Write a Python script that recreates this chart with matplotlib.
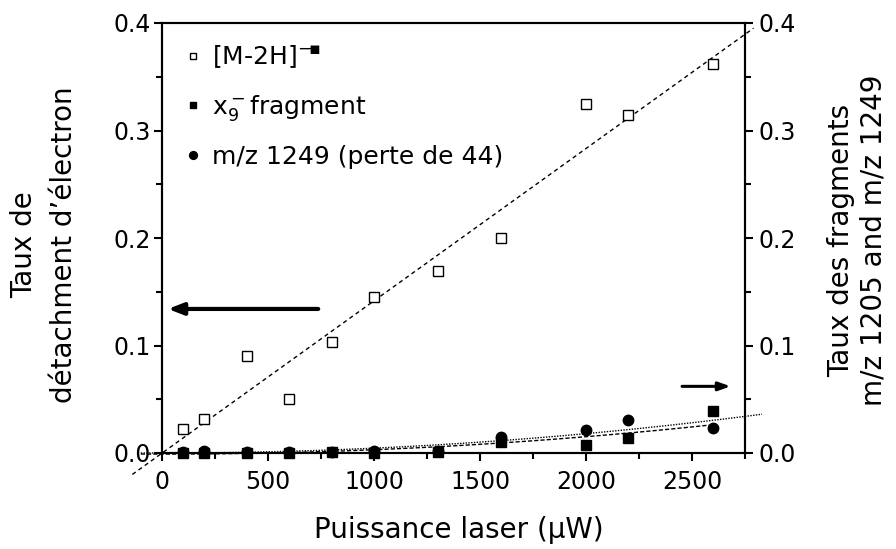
import numpy as np
import matplotlib
matplotlib.use("Agg")
import matplotlib.pyplot as plt

plt.rcParams['font.family'] = ['DejaVu Sans']
plt.rcParams['mathtext.fontset'] = 'dejavusans'

# données
puissance = [100, 200, 400, 600, 800, 1000, 1300, 1600, 2000, 2200, 2600]
m2h = [0.022, 0.032, 0.090, 0.050, 0.103, 0.145, 0.169, 0.200, 0.325, 0.314, 0.362]
x9 = [0.000, 0.000, 0.000, 0.000, 0.001, 0.000, 0.001, 0.0105, 0.007, 0.014, 0.039]
mz1249 = [0.001, 0.002, 0.001, 0.001, 0.0005, 0.002, 0.002, 0.015, 0.021, 0.0307, 0.023]

x_ticks = [0, 500, 1000, 1500, 2000, 2500]
y_ticks = [0.0, 0.1, 0.2, 0.3, 0.4]

fig = plt.figure(figsize=(8.96, 5.49), dpi=100)
ax = fig.add_axes([162 / 896, 1 - 453 / 549, 583 / 896, 430 / 549])
ax2 = ax.twinx()

x = np.array(puissance, dtype=float)


def fit_quad(y):
    # y = c * x^2 (moindres carrés)
    c = np.sum(x ** 2 * np.array(y)) / np.sum(x ** 4)
    return c


# ajustements
p_lin = np.polyfit(x, m2h, 1)
xl = np.linspace(-140, 2790, 50)
ax.plot(xl, np.polyval(p_lin, xl), ls=(0, (3, 2.5)), color='black', lw=1, clip_on=False)

c_x9 = fit_quad(x9)
xs = np.linspace(-100, 2580, 100)
ax2.plot(xs, c_x9 * xs ** 2 - 0.001, ls=(0, (3, 1.5)), color='black', lw=1, clip_on=False)

c_mz = fit_quad(mz1249)
xd = np.linspace(-100, 2830, 100)
ax2.plot(xd, c_mz * xd ** 2, ls=(0, (1, 1)), color='black', lw=1, clip_on=False)

h1, = ax.plot(x, m2h, 's', mfc='white', mec='black', mew=1, ms=6.5, clip_on=False)
h2, = ax2.plot(x, x9, 's', color='black', ms=6.5, clip_on=False)
h3, = ax2.plot(x, mz1249, 'o', color='black', ms=7.5, clip_on=False)

for a in (ax, ax2):
    a.set_xlim(0, 2750)
    a.set_ylim(0, 0.4)
    a.set_yticks(y_ticks)
    a.set_yticks(np.arange(0.05, 0.4, 0.1), minor=True)
    a.set_yticklabels([f'{v:.1f}' for v in y_ticks])
    for s in a.spines.values():
        s.set_linewidth(1.5)

ax.set_xticks(x_ticks)
ax.set_xticks(np.arange(250, 2751, 500), minor=True)
ax.tick_params(axis='both', which='major', labelsize=17, length=6, width=1.5, pad=2)
ax.tick_params(axis='both', which='minor', length=4, width=1.5)
ax.tick_params(axis='x', pad=6)
ax2.tick_params(axis='y', which='major', labelsize=17, length=6, width=1.5, pad=4)
ax2.tick_params(axis='y', which='minor', length=4, width=1.5)

# flèches
ax.annotate('', xy=(15, 0.134), xytext=(750, 0.134),
            arrowprops=dict(arrowstyle='-|>,head_length=0.9,head_width=0.35', lw=3, color='black'))
ax.annotate('', xy=(2695, 0.062), xytext=(2440, 0.062),
            arrowprops=dict(arrowstyle='-|>,head_length=0.7,head_width=0.25', lw=2.2, color='black'))

leg = ax.legend([h1, h2, h3],
                ['[M-2H]$^{-\\!▪}$', 'x$_9^-$fragment', 'm/z 1249 (perte de 44)'],
                loc='upper left', bbox_to_anchor=(0.006, 1.005), frameon=False,
                fontsize=18, handlelength=0.4, handletextpad=0.55, labelspacing=0.9,
                markerscale=0.75)

fig.text(459 / 896, 1 - 538 / 549, 'Puissance laser (µW)', fontsize=20,
         ha='center', va='baseline')
fig.text(44 / 896, 1 - 245 / 549, "Taux de\ndétachment d’électron", fontsize=20,
         rotation=90, ha='center', va='center', multialignment='center', linespacing=1.5)
fig.text(857 / 896, 1 - 240 / 549, "Taux des fragments\nm/z 1205 and m/z 1249", fontsize=20,
         rotation=90, ha='center', va='center', multialignment='center', linespacing=1.2)

fig.savefig('out.png', dpi=100)
